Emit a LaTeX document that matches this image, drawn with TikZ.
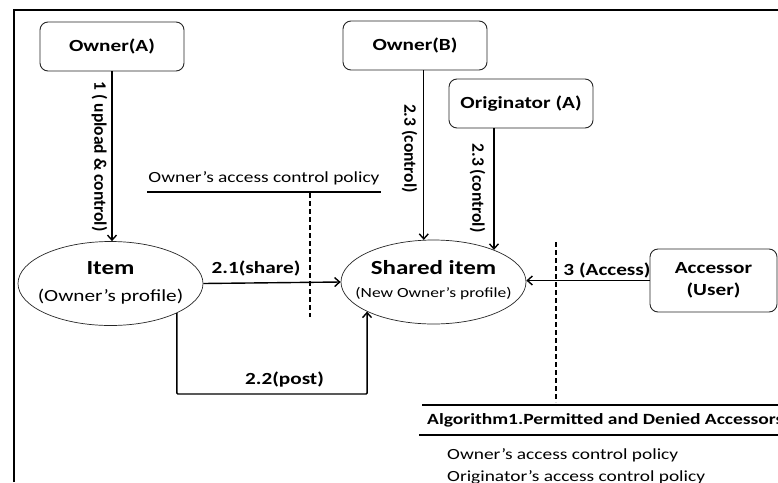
\documentclass[tikz,border=0pt]{standalone}
\usepackage{fontspec}
\setmainfont[FakeStretch=1.25]{Carlito}
\newfontfamily\plainfont{Carlito}
\usetikzlibrary{arrows.meta,shapes.geometric}
\begin{document}
\begin{tikzpicture}[x=1pt,y=-1pt,
  box/.style={draw=black!85, line width=0.9pt, rounded corners=8pt, minimum width=144pt, minimum height=49pt, inner sep=0pt, align=center, font=\fontsize{17}{22}\selectfont\bfseries},
  ell/.style={ellipse, draw=black!85, line width=0.7pt, inner sep=0pt, minimum width=185pt, minimum height=84pt},
  arr/.style={-{Straight Barb[length=5pt,width=9pt]}, line width=1.4pt},
  lbl/.style={inner sep=0pt, font=\fontsize{17}{18}\selectfont\bfseries},
  vlbl/.style={inner sep=0pt, rotate=-90, font=\plainfont\fontsize{17.5}{18}\selectfont\bfseries},
  txt/.style={inner sep=0pt, font=\fontsize{15.5}{18}\selectfont},
  dline/.style={line width=1.4pt, dash pattern=on 5pt off 3pt},
  rule/.style={line width=1.8pt}]
\useasboundingbox (0,0) rectangle (778,482);
\clip (0,0) rectangle (778,482);
\fill[white] (0,0) rectangle (778,482);
% frame
\draw[line width=2pt] (14,482) -- (14,10) -- (790,10);
% boxes
\node[box] (oa) at (112,46.5) {Owner(A)};
\node[box] (ob) at (415,45.5) {Owner(B)};
\node[box] (or) at (521,103.5) {Originator (A)};
\node[box, minimum width=127pt, minimum height=63pt] (acc) at (713.5,280.5) {Accessor\\(User)};
% ellipses
\node[ell] (item) at (110.5,283.5) {};
\node[inner sep=0pt, font=\fontsize{20}{22}\selectfont\bfseries] (itemt) at (110.5,268) {Item};
\node[inner sep=0pt, font=\fontsize{17}{20}\selectfont] (items) at (110.5,297) {(Owner’s profile)};
\node[ell] (sh) at (433.5,282) {};
\node[inner sep=0pt, font=\fontsize{20}{22}\selectfont\bfseries] (sht) at (433.5,268) {Shared item};
\node[inner sep=0pt, font=\fontsize{14}{16}\selectfont] (shs) at (433.5,294) {(New Owner’s profile)};
% arrows
\draw[arr] (oa.south) -- (oa.south |- item.north);
\draw[arr] (ob.south -| sh.103) -- (sh.103);
\draw[arr] (or.south -| sh.28) -- (sh.28);
\draw[arr] (item.east) -- (sh.west);
\coordinate (low) at (0,394);
\draw[arr, rounded corners=1pt] (item.-24) -- (item.-24 |- low) -| (sh.204);
\draw[arr] (acc.west) -- (acc.west -| sh.east);
% labels
\node[vlbl] (l1) at (99.5,156.5) {1 ( upload \& control)};
\node[vlbl] (l23a) at (409.5,148.5) {2.3 (control)};
\node[vlbl] (l23b) at (477.5,188) {2.3 (control)};
\node[lbl] (l21) at (256,268) {2.1(share)};
\node[lbl] (l22) at (284.5,380) {2.2(post)};
\node[lbl] (l3) at (607,270) {3 (Access)};
% owner policy
\node[txt] (pol) at (264,178) {Owner’s access control policy};
\coordinate (polL) at (147,192);
\coordinate (polR) at (381,192);
\draw[rule] (polL) -- (polR);
\coordinate (d1t) at (310,193);
\coordinate (d1b) at (310,317);
\draw[dline] (d1t) -- (d1b);
\coordinate (d2t) at (556,242);
\coordinate (d2b) at (556,402);
\draw[dline] (d2t) -- (d2b);
% algorithm
\coordinate (a1L) at (422,405);
\coordinate (a1R) at (790,405);
\coordinate (a2L) at (419,435);
\coordinate (a2R) at (790,435);
\draw[rule] (a1L) -- (a1R);
\draw[rule] (a2L) -- (a2R);
\node[lbl, font=\fontsize{15.6}{18}\selectfont\bfseries, anchor=west] (alg) at (427,420) {Algorithm1.Permitted and Denied Accessors};
\node[txt, anchor=west] (p1) at (447,455) {Owner’s access control policy};
\node[txt, anchor=west] (p2) at (447,477) {Originator’s access control policy};
\end{tikzpicture}
\end{document}
